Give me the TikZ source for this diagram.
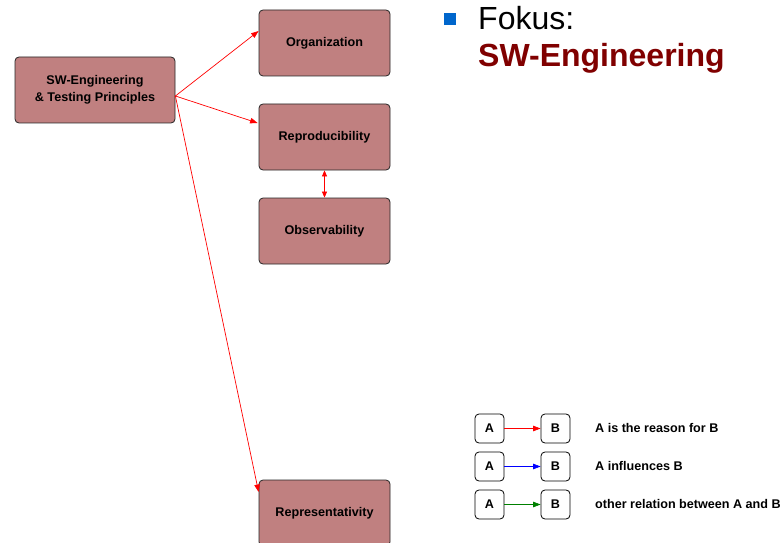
\documentclass[tikz,border=0pt]{standalone}
\usepackage{fontspec}
\setmainfont{Liberation Sans}
\usetikzlibrary{arrows.meta,calc}
\definecolor{boxfill}{RGB}{192,128,128}
\definecolor{titlered}{RGB}{128,0,0}
\definecolor{bulletblue}{RGB}{0,102,204}
\definecolor{relgreen}{RGB}{0,128,0}
\begin{document}
\begin{tikzpicture}[x=1pt,y=-1pt,
  topic/.style={draw=black!85, fill=boxfill, rounded corners=4pt, line width=0.8pt,
    minimum width=131pt, minimum height=66pt, align=center, inner sep=2pt,
    font=\fontsize{12.6}{17}\selectfont\bfseries},
  keybox/.style={draw=black, fill=white, rounded corners=4pt, line width=0.8pt,
    minimum width=29pt, minimum height=29pt, inner sep=0pt,
    font=\fontsize{12.6}{14}\selectfont\bfseries},
  keytext/.style={anchor=west, inner sep=0pt, font=\fontsize{12.6}{14}\selectfont\bfseries},
  rel/.style={line width=0.7pt, -{Triangle[length=7.5pt,width=5.5pt]}},
]
\useasboundingbox (0,0) rectangle (780,543);

% concept boxes
\node[topic, minimum width=160pt] (sw) at (95,90) {SW-Engineering\\\& Testing Principles};
\node[topic] (org) at (324.5,43) {Organization};
\node[topic] (rep) at (324.5,137) {Reproducibility};
\node[topic] (obs) at (324.5,231) {Observability};
\node[topic] (rpr) at (324.5,513) {\raisebox{3pt}{Representativity}};

% relations
\coordinate (src) at ($(sw.east)+(0,6)$);
\draw[rel, red] (src) -- ($(org.west)+(0,-12)$);
\draw[rel, red] (src) -- ($(rep.west)+(-1,-14)$);
\draw[rel, red] (src) -- ($(rpr.west)+(0,-21)$);
\draw[rel, red, {Triangle[length=6pt,width=5pt]}-{Triangle[length=6pt,width=5pt]}] (rep.south) -- (obs.north);

% heading
\fill[bulletblue] (443.5,13) rectangle (455.5,25);
\node[anchor=base west, inner sep=0pt, font=\fontsize{32}{32}\selectfont] (fokus) at (478,30) {Fokus:};
\node[anchor=base west, inner sep=0pt, font=\fontsize{32}{32}\selectfont\bfseries, text=titlered] (fokustopic) at (478,67) {SW-Engineering};

% legend
\node[keybox] (a1) at (489.5,428.5) {A};
\node[keybox] (b1) at (555.5,428.5) {B};
\node[keybox] (a2) at (489.5,466.5) {A};
\node[keybox] (b2) at (555.5,466.5) {B};
\node[keybox] (a3) at (489.5,504.5) {A};
\node[keybox] (b3) at (555.5,504.5) {B};
\draw[rel, red] (a1) -- (b1);
\draw[rel, blue] (a2) -- (b2);
\draw[rel, relgreen] (a3) -- (b3);
\node[keytext] (t1) at (595,428) {A is the reason for B};
\node[keytext] (t2) at (595,466) {A influences B};
\node[keytext] (t3) at (595,504) {other relation between A and B};
\end{tikzpicture}
\end{document}
